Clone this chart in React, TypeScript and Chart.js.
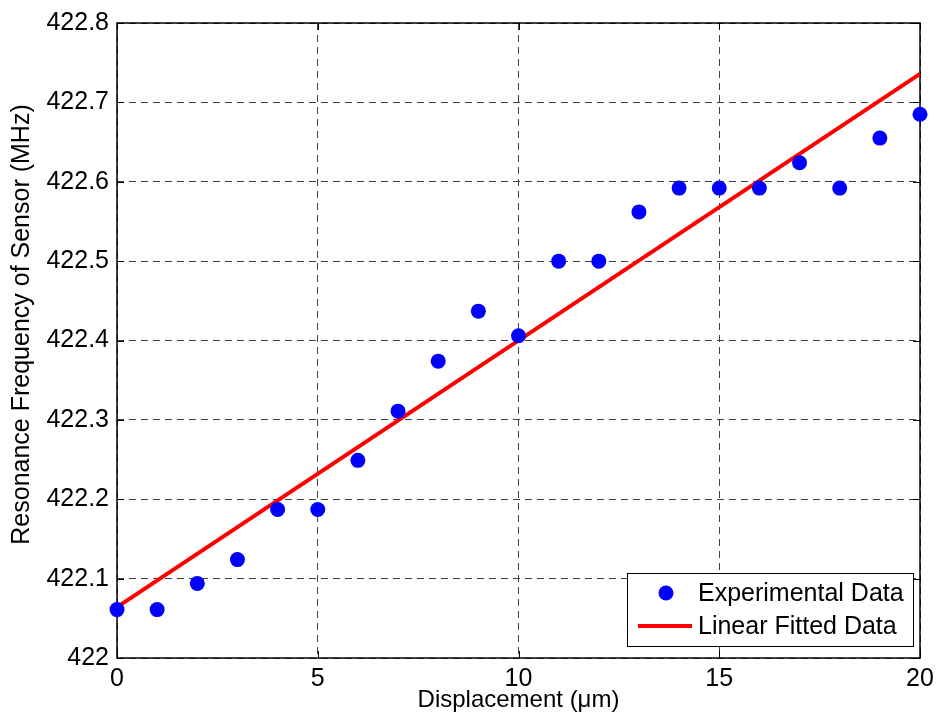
import React, { useEffect, useRef } from "react";
import { Chart, registerables } from "chart.js";

Chart.register(...registerables);

const displacement = [0, 1, 2, 3, 4, 5, 6, 7, 8, 9, 10, 11, 12, 13, 14, 15, 16, 17, 18, 19, 20];
const experimental = [
  422.061, 422.061, 422.094, 422.124, 422.187, 422.187, 422.249, 422.311, 422.374, 422.437,
  422.406, 422.5, 422.5, 422.562, 422.592, 422.592, 422.592, 422.624, 422.592, 422.655, 422.685,
];
const fitX = [0, 20];
const fitY = [422.064, 422.736];
const legendLabels = ["Experimental Data", "Linear Fitted Data"];
const xTitle = "Displacement (μm)";
const yTitle = "Resonance Frequency of Sensor (MHz)";

const FONT = "'Liberation Sans', Arial, Helvetica, sans-serif";

const framePlugin = {
  id: "matlabFrame",
  beforeDatasetsDraw(chart: any) {
    const { ctx, chartArea: a, scales } = chart;
    ctx.save();
    ctx.strokeStyle = "#000";
    ctx.lineWidth = 1;
    ctx.setLineDash([]);
    const tl = 7;
    ctx.beginPath();
    scales.x.ticks.forEach((t: any) => {
      const px = Math.round(scales.x.getPixelForValue(t.value)) + 0.5;
      ctx.moveTo(px, a.bottom);
      ctx.lineTo(px, a.bottom - tl);
      ctx.moveTo(px, a.top);
      ctx.lineTo(px, a.top + tl);
    });
    scales.y.ticks.forEach((t: any) => {
      const py = Math.round(scales.y.getPixelForValue(t.value)) + 0.5;
      ctx.moveTo(a.left, py);
      ctx.lineTo(a.left + tl, py);
      ctx.moveTo(a.right, py);
      ctx.lineTo(a.right - tl, py);
    });
    ctx.stroke();
    ctx.lineWidth = 1.5;
    ctx.strokeRect(a.left, a.top, a.right - a.left, a.bottom - a.top);
    ctx.restore();
  },
  afterDraw(chart: any) {
    const { ctx, chartArea: a } = chart;
    // y-axis title
    ctx.save();
    ctx.fillStyle = "#000";
    ctx.font = `25px ${FONT}`;
    ctx.textAlign = "center";
    ctx.textBaseline = "middle";
    ctx.translate(22, (a.top + a.bottom) / 2 - 16);
    ctx.rotate(-Math.PI / 2);
    ctx.fillText(yTitle, 0, 0);
    ctx.restore();

    // legend
    const bx = a.right - 293;
    const by = a.bottom - 85;
    const bw = 286;
    const bh = 73;
    ctx.save();
    ctx.fillStyle = "#fff";
    ctx.fillRect(bx, by, bw, bh);
    ctx.strokeStyle = "#000";
    ctx.lineWidth = 1;
    ctx.strokeRect(bx + 0.5, by + 0.5, bw, bh);
    const r1 = by + 20;
    const r2 = by + 53;
    ctx.fillStyle = "#0000ff";
    ctx.beginPath();
    ctx.arc(bx + 39, r1, 7.5, 0, Math.PI * 2);
    ctx.fill();
    ctx.strokeStyle = "#ff0000";
    ctx.lineWidth = 4;
    ctx.beginPath();
    ctx.moveTo(bx + 11, r2);
    ctx.lineTo(bx + 65, r2);
    ctx.stroke();
    ctx.fillStyle = "#000";
    ctx.font = `25px ${FONT}`;
    ctx.textBaseline = "middle";
    ctx.textAlign = "left";
    ctx.fillText(legendLabels[0], bx + 71, r1 + 1);
    ctx.fillText(legendLabels[1], bx + 71, r2 + 1);
    ctx.restore();
  },
};

export default function App() {
  const ref = useRef<HTMLCanvasElement>(null);
  useEffect(() => {
    if (!ref.current) return;
    const chart = new Chart(ref.current, {
      type: "scatter",
      data: {
        datasets: [
          {
            label: legendLabels[1],
            data: fitX.map((x, i) => ({ x, y: fitY[i] })),
            showLine: true,
            borderColor: "#ff0000",
            borderWidth: 4,
            pointRadius: 0,
            clip: false as any,
            order: 2,
          },
          {
            label: legendLabels[0],
            data: displacement.map((x, i) => ({ x, y: experimental[i] })),
            showLine: false,
            backgroundColor: "#0000ff",
            borderWidth: 0,
            pointRadius: 7.5,
            pointHoverRadius: 7.5,
            clip: false as any,
            order: 1,
          },
        ],
      },
      options: {
        animation: false,
        responsive: false,
        events: [],
        layout: { padding: { top: 22, right: 20, left: 0, bottom: 0 } },
        plugins: { legend: { display: false }, tooltip: { enabled: false } },
        scales: {
          x: {
            type: "linear",
            min: 0,
            max: 20,
            afterFit: (s: any) => {
              s.height = 66;
            },
            ticks: {
              stepSize: 5,
              padding: 6,
              color: "#000",
              font: { family: FONT, size: 25 },
              maxRotation: 0,
            },
            grid: { color: "#404040", lineWidth: 1, drawTicks: false },
            border: { display: false, dash: [7, 5] },
            title: {
              display: true,
              text: xTitle,
              color: "#000",
              font: { family: FONT, size: 24 },
              padding: { top: 0, bottom: 9 },
            },
          },
          y: {
            type: "linear",
            min: 422,
            max: 422.8,
            afterFit: (s: any) => {
              s.width = 117;
            },
            ticks: {
              stepSize: 0.1,
              padding: 8,
              color: "#000",
              font: { family: FONT, size: 25 },
              callback: (v: any) => {
                const n = Number(v);
                return Math.abs(n - 422) < 1e-6 ? "422" : n.toFixed(1);
              },
            },
            grid: { color: "#404040", lineWidth: 1, drawTicks: false },
            border: { display: false, dash: [7, 5] },
            title: { display: false },
          },
        },
      },
      plugins: [framePlugin],
    });
    return () => chart.destroy();
  }, []);
  return (
    <div style={{ position: "absolute", left: 0, top: 0, width: 940, height: 724, background: "#fff" }}>
      <canvas ref={ref} width={940} height={724} style={{ display: "block" }} />
    </div>
  );
}
